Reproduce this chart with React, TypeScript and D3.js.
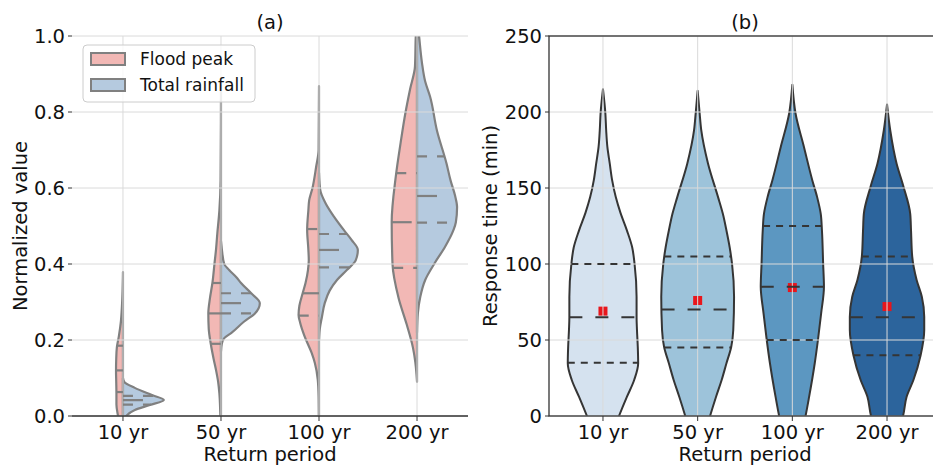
import React from "react";
import * as d3 from "d3";

type Pt = [number, number]; // [value, relative density]

const periods = ["10 yr", "50 yr", "100 yr", "200 yr"];
const seriesNames = ["Flood peak", "Total rainfall"];

// Panel (a): kernel density profiles, one per return period
const floodPeakProfiles: Pt[][] = [
  [[0.379, 0], [0.33, 0.01], [0.3, 0.02], [0.25, 0.05], [0.21, 0.1], [0.18, 0.15], [0.15, 0.165], [0.12, 0.17], [0.09, 0.165], [0.06, 0.16], [0.03, 0.16], [0.0, 0.12], [-0.03, 0.06], [-0.06, 0]],
  [[0.87, 0], [0.62, 0.01], [0.54, 0.04], [0.48, 0.09], [0.44, 0.12], [0.4, 0.16], [0.35, 0.21], [0.31, 0.27], [0.27, 0.31], [0.23, 0.3], [0.19, 0.25], [0.15, 0.18], [0.12, 0.12], [0.09, 0.07], [0.06, 0.04], [0.0, 0.015], [-0.05, 0]],
  [[0.868, 0], [0.7, 0.01], [0.656, 0.07], [0.6, 0.16], [0.568, 0.24], [0.542, 0.26], [0.49, 0.29], [0.437, 0.26], [0.41, 0.25], [0.384, 0.27], [0.35, 0.33], [0.323, 0.4], [0.29, 0.48], [0.266, 0.5], [0.245, 0.46], [0.209, 0.35], [0.166, 0.18], [0.139, 0.1], [0.095, 0.03], [0.05, 0.01], [0.0, 0.005], [-0.03, 0]],
  [[1.05, 0], [1.0, 0.03], [0.92, 0.05], [0.86, 0.17], [0.8, 0.28], [0.72, 0.4], [0.63, 0.52], [0.51, 0.62], [0.4, 0.6], [0.31, 0.45], [0.24, 0.25], [0.18, 0.1], [0.14, 0.04], [0.09, 0]],
];
const totalRainfallProfiles: Pt[][] = [
  [[0.1, 0], [0.09, 0.03], [0.074, 0.29], [0.055, 0.71], [0.042, 1.0], [0.029, 0.66], [0.016, 0.29], [0.0, 0.08], [-0.02, 0]],
  [[0.46, 0], [0.44, 0.02], [0.4, 0.08], [0.384, 0.2], [0.366, 0.37], [0.35, 0.49], [0.323, 0.74], [0.297, 0.95], [0.27, 0.83], [0.248, 0.56], [0.22, 0.27], [0.205, 0.08], [0.19, 0.02], [0.17, 0]],
  [[0.64, 0], [0.595, 0.03], [0.56, 0.16], [0.524, 0.37], [0.489, 0.61], [0.463, 0.8], [0.437, 0.95], [0.41, 0.9], [0.384, 0.68], [0.358, 0.44], [0.33, 0.26], [0.297, 0.14], [0.26, 0.07], [0.23, 0.02], [0.2, 0]],
  [[1.05, 0], [1.0, 0.05], [0.93, 0.12], [0.88, 0.2], [0.84, 0.32], [0.75, 0.49], [0.665, 0.72], [0.62, 0.82], [0.58, 0.93], [0.55, 0.98], [0.51, 0.95], [0.489, 0.89], [0.446, 0.69], [0.402, 0.43], [0.358, 0.2], [0.314, 0.08], [0.27, 0.02], [0.22, 0]],
];
// [Q1, median, Q3]
const floodPeakQuartiles = [[0.063, 0.12, 0.185], [0.19, 0.27, 0.35], [0.264, 0.323, 0.492], [0.39, 0.51, 0.639]];
const totalRainfallQuartiles = [[0.03, 0.042, 0.053], [0.27, 0.297, 0.323], [0.391, 0.437, 0.479], [0.509, 0.579, 0.683]];

// Panel (b): response time distributions
const responseProfiles: Pt[][] = [
  [[215, 0], [199, 0.06], [188, 0.08], [177, 0.11], [166, 0.17], [155, 0.23], [144, 0.32], [133.5, 0.44], [122, 0.6], [111, 0.73], [100, 0.79], [78.5, 0.84], [65, 0.84], [56.6, 0.85], [45.6, 0.87], [34.7, 0.88], [23.7, 0.78], [12.7, 0.6], [0, 0.4], [-10, 0.25], [-25, 0]],
  [[214, 0], [199, 0.05], [188, 0.09], [166, 0.26], [144, 0.51], [133, 0.63], [122, 0.72], [111, 0.8], [100, 0.86], [78.5, 0.91], [56.6, 0.89], [45.6, 0.84], [34.7, 0.72], [23.7, 0.6], [12.7, 0.46], [0, 0.31], [-15, 0.15], [-30, 0]],
  [[218, 0], [199, 0.08], [177, 0.29], [155, 0.5], [144, 0.62], [133, 0.71], [122, 0.74], [100, 0.77], [85, 0.79], [67.5, 0.72], [50, 0.64], [34.7, 0.56], [12.7, 0.42], [0, 0.33], [-15, 0.2], [-30, 0]],
  [[205, 0], [188, 0.08], [166, 0.24], [151, 0.41], [133, 0.58], [122, 0.6], [104.8, 0.63], [89.5, 0.74], [78.5, 0.87], [65.3, 0.93], [56.6, 0.93], [40, 0.84], [23.7, 0.66], [12.7, 0.49], [0, 0.4], [-15, 0.2], [-30, 0]],
];
const responseQuartiles = [[35, 65, 100], [45, 70, 105], [50, 85, 125], [40, 65, 105]];
const responseMeans = [69, 76, 84.5, 72];

const normTicks = [0, 0.2, 0.4, 0.6, 0.8, 1.0];
const timeTicks = [0, 50, 100, 150, 200, 250];

const splitColors = ["#f2b8b5", "#b5cadf"];
const blues = ["#d5e2ef", "#9dc3da", "#5c97c1", "#2c649c"];

const FONT = "DejaVu Sans, sans-serif";
const W = 933;
const H = 467;
const TOP = 36;
const BOTTOM = 416;
const A = { left: 72, right: 468 };
const B = { left: 549, right: 941 };

function densityAt(profile: Pt[], v: number): number {
  const p = [...profile].sort((a, b) => a[0] - b[0]);
  for (let i = 0; i < p.length - 1; i++) {
    if (v >= p[i][0] && v <= p[i + 1][0]) {
      const t = (v - p[i][0]) / (p[i + 1][0] - p[i][0] || 1);
      return p[i][1] + t * (p[i + 1][1] - p[i][1]);
    }
  }
  return 0;
}

const sortDesc = (p: Pt[]) => [...p].sort((a, b) => b[0] - a[0]);

export default function App() {
  // scales
  const xa = d3.scalePoint<string>().domain(periods).range([A.left, A.right]).padding(0.52);
  const ya = d3.scaleLinear().domain([0, 1]).range([BOTTOM, TOP]);
  const wa = d3.scaleLinear().domain([0, 1]).range([0, 0.417 * xa.step()]);

  const xb = d3.scalePoint<string>().domain(periods).range([B.left, B.right]).padding(0.57);
  const yb = d3.scaleLinear().domain([0, 250]).range([BOTTOM, TOP]);
  const wb = d3.scaleLinear().domain([0, 1]).range([0, 0.4225 * xb.step()]);

  const halfArea = (cx: number, sign: number) =>
    d3
      .area<Pt>()
      .y((d) => ya(d[0]))
      .x0(cx)
      .x1((d) => cx + sign * wa(d[1]))
      .curve(d3.curveMonotoneY);

  const fullArea = (cx: number) =>
    d3
      .area<Pt>()
      .y((d) => yb(d[0]))
      .x0((d) => cx - wb(d[1]))
      .x1((d) => cx + wb(d[1]))
      .curve(d3.curveMonotoneY);

  const gridColor = "#dadada";
  const edgeA = "#808080";
  const edgeB = "#353535";
  const textColor = "#111";
  const fs = 19.5;

  const splitSets = [
    { profiles: floodPeakProfiles, quart: floodPeakQuartiles, sign: -1, color: splitColors[0] },
    { profiles: totalRainfallProfiles, quart: totalRainfallQuartiles, sign: 1, color: splitColors[1] },
  ];

  return (
    <svg width={W} height={H} viewBox={`0 0 ${W} ${H}`} style={{ display: "block", position: "absolute", left: 0, top: 0, background: "#fff" }} fontFamily={FONT}>
      <defs>
        <clipPath id="clipA">
          <rect x={A.left} y={TOP} width={A.right - A.left} height={BOTTOM - TOP} />
        </clipPath>
        <clipPath id="clipB">
          <rect x={B.left} y={TOP} width={B.right - B.left} height={BOTTOM - TOP} />
        </clipPath>
      </defs>
      <rect x={0} y={0} width={W} height={H} fill="#fff" />

      {/* ---------- Panel (a) ---------- */}
      {/* violin bodies */}
      <g clipPath="url(#clipA)">
        {splitSets.map((s, si) =>
          periods.map((p, i) => (
            <path
              key={`a-${si}-${i}`}
              d={halfArea(xa(p)!, s.sign)(sortDesc(s.profiles[i])) || ""}
              fill={s.color}
              stroke={edgeA}
              strokeWidth={2.2}
              strokeLinejoin="round"
            />
          ))
        )}
      </g>
      {/* grid sits above the bodies, below the quartile lines */}
      <g stroke={gridColor} strokeWidth={1}>
        {normTicks.map((t) => (
          <line key={t} x1={A.left} x2={A.right} y1={ya(t)} y2={ya(t)} />
        ))}
        {periods.map((p) => (
          <line key={p} x1={xa(p)} x2={xa(p)} y1={TOP} y2={BOTTOM} />
        ))}
      </g>
      {/* quartile lines */}
      <g clipPath="url(#clipA)">
        {splitSets.map((s, si) =>
          periods.map((p, i) => {
            const cx = xa(p)!;
            return s.quart[i].map((q, qi) => {
              const hw = wa(densityAt(s.profiles[i], q));
              const x1 = s.sign < 0 ? cx - hw : cx;
              const x2 = s.sign < 0 ? cx : cx + hw;
              return (
                <line
                  key={`q-${si}-${i}-${qi}`}
                  x1={x1}
                  x2={x2}
                  y1={ya(q)}
                  y2={ya(q)}
                  stroke={edgeA}
                  strokeWidth={2.2}
                  strokeDasharray={qi === 1 ? "20 20" : "10 10"}
                />
              );
            });
          })
        )}
      </g>
      {/* axes (a) */}
      <line x1={A.left} x2={A.right} y1={BOTTOM} y2={BOTTOM} stroke="#333" strokeWidth={1.3} />
      {normTicks.map((t) => (
        <g key={t}>
          <line x1={A.left - 4} x2={A.left} y1={ya(t)} y2={ya(t)} stroke="#333" strokeWidth={1} />
          <text x={A.left - 7} y={ya(t)} dy="0.36em" textAnchor="end" fontSize={fs} fill={textColor}>
            {t.toFixed(1)}
          </text>
        </g>
      ))}
      {periods.map((p) => (
        <g key={p}>
          <line x1={xa(p)} x2={xa(p)} y1={BOTTOM} y2={BOTTOM + 5} stroke="#333" strokeWidth={1} />
          <text x={xa(p)} y={439} textAnchor="middle" fontSize={fs} fill={textColor}>
            {p}
          </text>
        </g>
      ))}
      <text x={(A.left + A.right) / 2} y={461} textAnchor="middle" fontSize={fs} fill={textColor}>
        Return period
      </text>
      <text transform={`translate(27,${(TOP + BOTTOM) / 2}) rotate(-90)`} textAnchor="middle" fontSize={fs} fill={textColor}>
        Normalized value
      </text>
      <text x={(A.left + A.right) / 2} y={29} textAnchor="middle" fontSize={fs} fill={textColor}>
        (a)
      </text>

      {/* legend (a) */}
      <g>
        <rect x={83} y={45} width={172} height={57} rx={4} fill="#fff" fillOpacity={0.8} stroke="#cccccc" strokeWidth={1} />
        {seriesNames.map((n, i) => (
          <g key={n}>
            <rect x={91} y={53 + i * 26} width={34} height={12} fill={splitColors[i]} stroke={edgeA} strokeWidth={2} />
            <text x={140} y={65 + i * 26} fontSize={17} fill={textColor}>
              {n}
            </text>
          </g>
        ))}
      </g>

      {/* ---------- Panel (b) ---------- */}
      <g clipPath="url(#clipB)">
        {periods.map((p, i) => {
          const cx = xb(p)!;
          return (
            <g key={`b-${i}`}>
              <path d={fullArea(cx)(sortDesc(responseProfiles[i])) || ""} fill={blues[i]} stroke={edgeB} strokeWidth={2} strokeLinejoin="round" />
              <rect x={cx - 4.5} y={yb(responseMeans[i]) - 4.5} width={9} height={9} fill="#e8161c" />
            </g>
          );
        })}
      </g>
      {/* grid (b) */}
      <g stroke={gridColor} strokeWidth={1}>
        {timeTicks.map((t) => (
          <line key={t} x1={B.left} x2={B.right} y1={yb(t)} y2={yb(t)} />
        ))}
        {periods.map((p) => (
          <line key={p} x1={xb(p)} x2={xb(p)} y1={TOP} y2={BOTTOM} />
        ))}
      </g>
      {/* quartile lines (b) */}
      <g clipPath="url(#clipB)">
        {periods.map((p, i) => {
          const cx = xb(p)!;
          return responseQuartiles[i].map((q, qi) => {
            const hw = wb(densityAt(responseProfiles[i], q));
            return (
              <line
                key={`bq-${i}-${qi}`}
                x1={cx - hw}
                x2={cx + hw}
                y1={yb(q)}
                y2={yb(q)}
                stroke={edgeB}
                strokeWidth={2}
                strokeDasharray={qi === 1 ? "13 13" : "7 6"}
              />
            );
          });
        })}
      </g>
      {/* axes (b) */}
      <rect x={B.left} y={TOP} width={B.right - B.left} height={BOTTOM - TOP} fill="none" stroke="#333" strokeWidth={1.3} />
      {timeTicks.map((t) => (
        <g key={t}>
          <line x1={B.left - 4} x2={B.left} y1={yb(t)} y2={yb(t)} stroke="#333" strokeWidth={1} />
          <text x={B.left - 7} y={yb(t)} dy="0.36em" textAnchor="end" fontSize={fs} fill={textColor}>
            {t}
          </text>
        </g>
      ))}
      {periods.map((p) => (
        <g key={p}>
          <line x1={xb(p)} x2={xb(p)} y1={BOTTOM} y2={BOTTOM + 5} stroke="#333" strokeWidth={1} />
          <text x={xb(p)} y={439} textAnchor="middle" fontSize={fs} fill={textColor}>
            {p}
          </text>
        </g>
      ))}
      <text x={(B.left + B.right) / 2} y={461} textAnchor="middle" fontSize={fs} fill={textColor}>
        Return period
      </text>
      <text transform={`translate(497,${(TOP + BOTTOM) / 2}) rotate(-90)`} textAnchor="middle" fontSize={fs} fill={textColor}>
        Response time (min)
      </text>
      <text x={(B.left + B.right) / 2} y={29} textAnchor="middle" fontSize={fs} fill={textColor}>
        (b)
      </text>
    </svg>
  );
}
